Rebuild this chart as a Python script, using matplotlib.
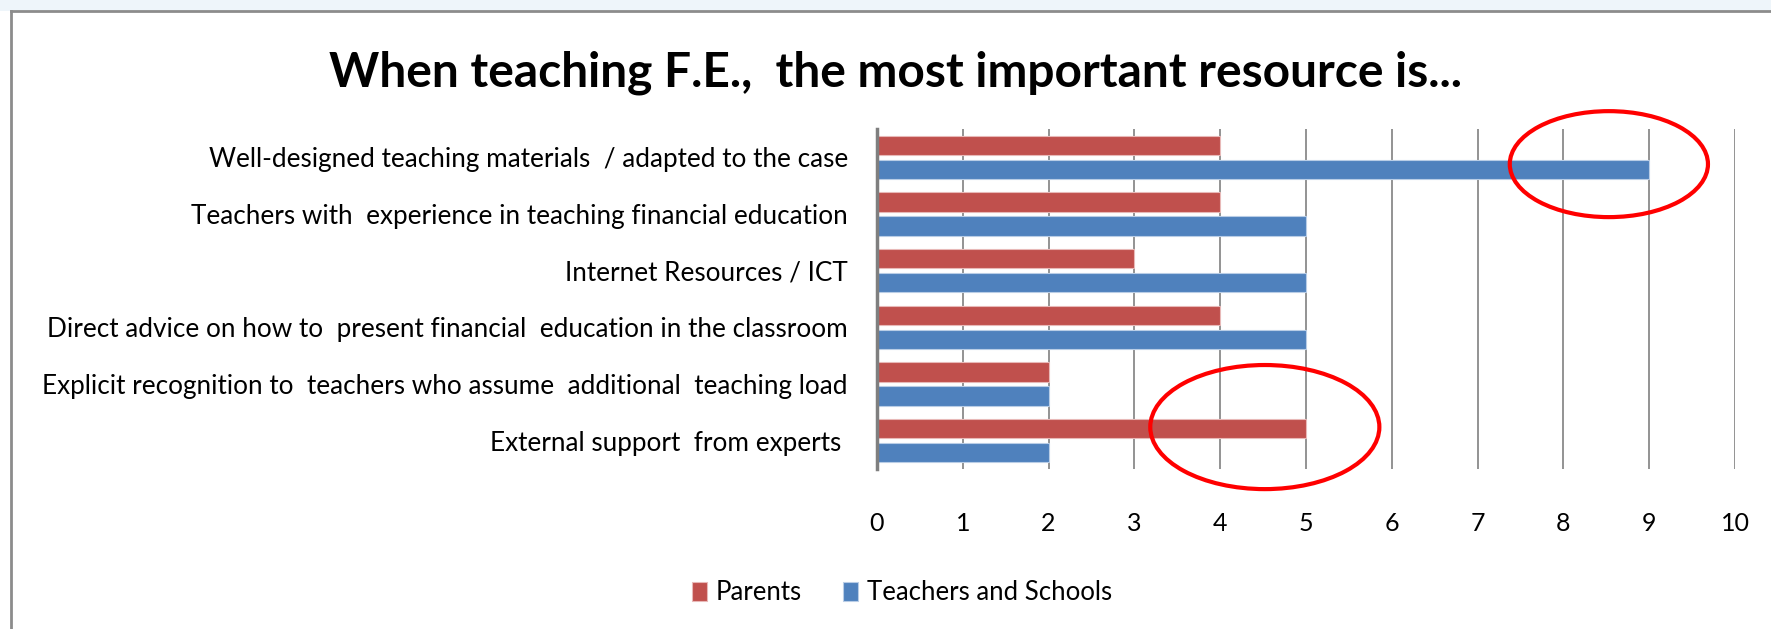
import numpy as np
import matplotlib
matplotlib.use("Agg")
import matplotlib.pyplot as plt
from matplotlib.patches import Ellipse, Rectangle

# data
categories = [
    "Well-designed teaching materials  / adapted to the case",
    "Teachers with  experience in teaching financial education",
    "Internet Resources / ICT",
    "Direct advice on how to  present financial  education in the classroom",
    "Explicit recognition to  teachers who assume  additional  teaching load",
    "External support  from experts ",
]
parents = [4, 4, 3, 4, 2, 5]
teachers = [9, 5, 5, 5, 2, 2]
series_names = ["Parents", "Teachers and Schools"]
x_ticks = list(range(0, 11))

red = "#c0504d"
blue = "#4f81bd"

plt.rcParams["font.family"] = ["Lato", "DejaVu Sans"]

fig = plt.figure(figsize=(17.71, 6.29), dpi=100)

# slide background strip and chart frame
fig.patches.append(Rectangle((0, 1 - 11 / 629), 1, 11 / 629, transform=fig.transFigure,
                             facecolor="#eef5fa", edgecolor="none", zorder=0))
fig.lines.append(plt.Line2D([11 / 1771, 1], [1 - 11 / 629, 1 - 11 / 629], transform=fig.transFigure,
                            color="#8c8c8c", lw=2))
fig.lines.append(plt.Line2D([11 / 1771, 11 / 1771], [0, 1 - 11 / 629], transform=fig.transFigure,
                            color="#8c8c8c", lw=2))

ax = fig.add_axes([877 / 1771, 1 - 469 / 629, (1735 - 877) / 1771, (469 - 129) / 629])

y = np.arange(len(categories))
h = 0.34
ax.barh(y - 0.2125, parents, height=h, color=red, edgecolor="#e8b9b8", linewidth=0.8,
        label=series_names[0], zorder=3)
ax.barh(y + 0.2125, teachers, height=h, color=blue, edgecolor="#b9cde6", linewidth=0.8,
        label=series_names[1], zorder=3)

ax.set_xlim(0, 10)
ax.set_ylim(len(categories) - 0.5, -0.5)
ax.set_xticks(x_ticks)
ax.set_yticks(y)
ax.set_yticklabels(categories, fontsize=18.8)
ax.tick_params(axis="y", length=0, pad=21)
ax.tick_params(axis="x", length=0, pad=31, labelsize=18)
ax.grid(axis="x", color="#8a8a8a", lw=1.3, zorder=1)
ax.set_axisbelow(True)
for s in ["top", "right", "bottom"]:
    ax.spines[s].set_visible(False)
ax.spines["left"].set_color("#7f7f7f")
ax.spines["left"].set_linewidth(2.5)
ax.spines["left"].set_zorder(4)

# highlight ellipses
ax.add_patch(Ellipse((8.53, 0.12), 2.31, 1.87, fill=False, edgecolor="#ff0000", lw=3, clip_on=False, zorder=5))
ax.add_patch(Ellipse((4.52, 4.76), 2.67, 2.19, fill=False, edgecolor="#ff0000", lw=3, clip_on=False, zorder=5))

fig.text(896 / 1771, 1 - 73 / 629, "When teaching F.E.,  the most important resource is...",
         ha="center", va="center", fontsize=34.5, fontweight="bold")

fig.legend(loc="center", bbox_to_anchor=(902 / 1771, 1 - 593 / 629), ncol=2, frameon=False,
           fontsize=18.5, handlelength=0.58, handleheight=0.8, handletextpad=0.35, columnspacing=1.6)

fig.savefig("out.png", dpi=100)
